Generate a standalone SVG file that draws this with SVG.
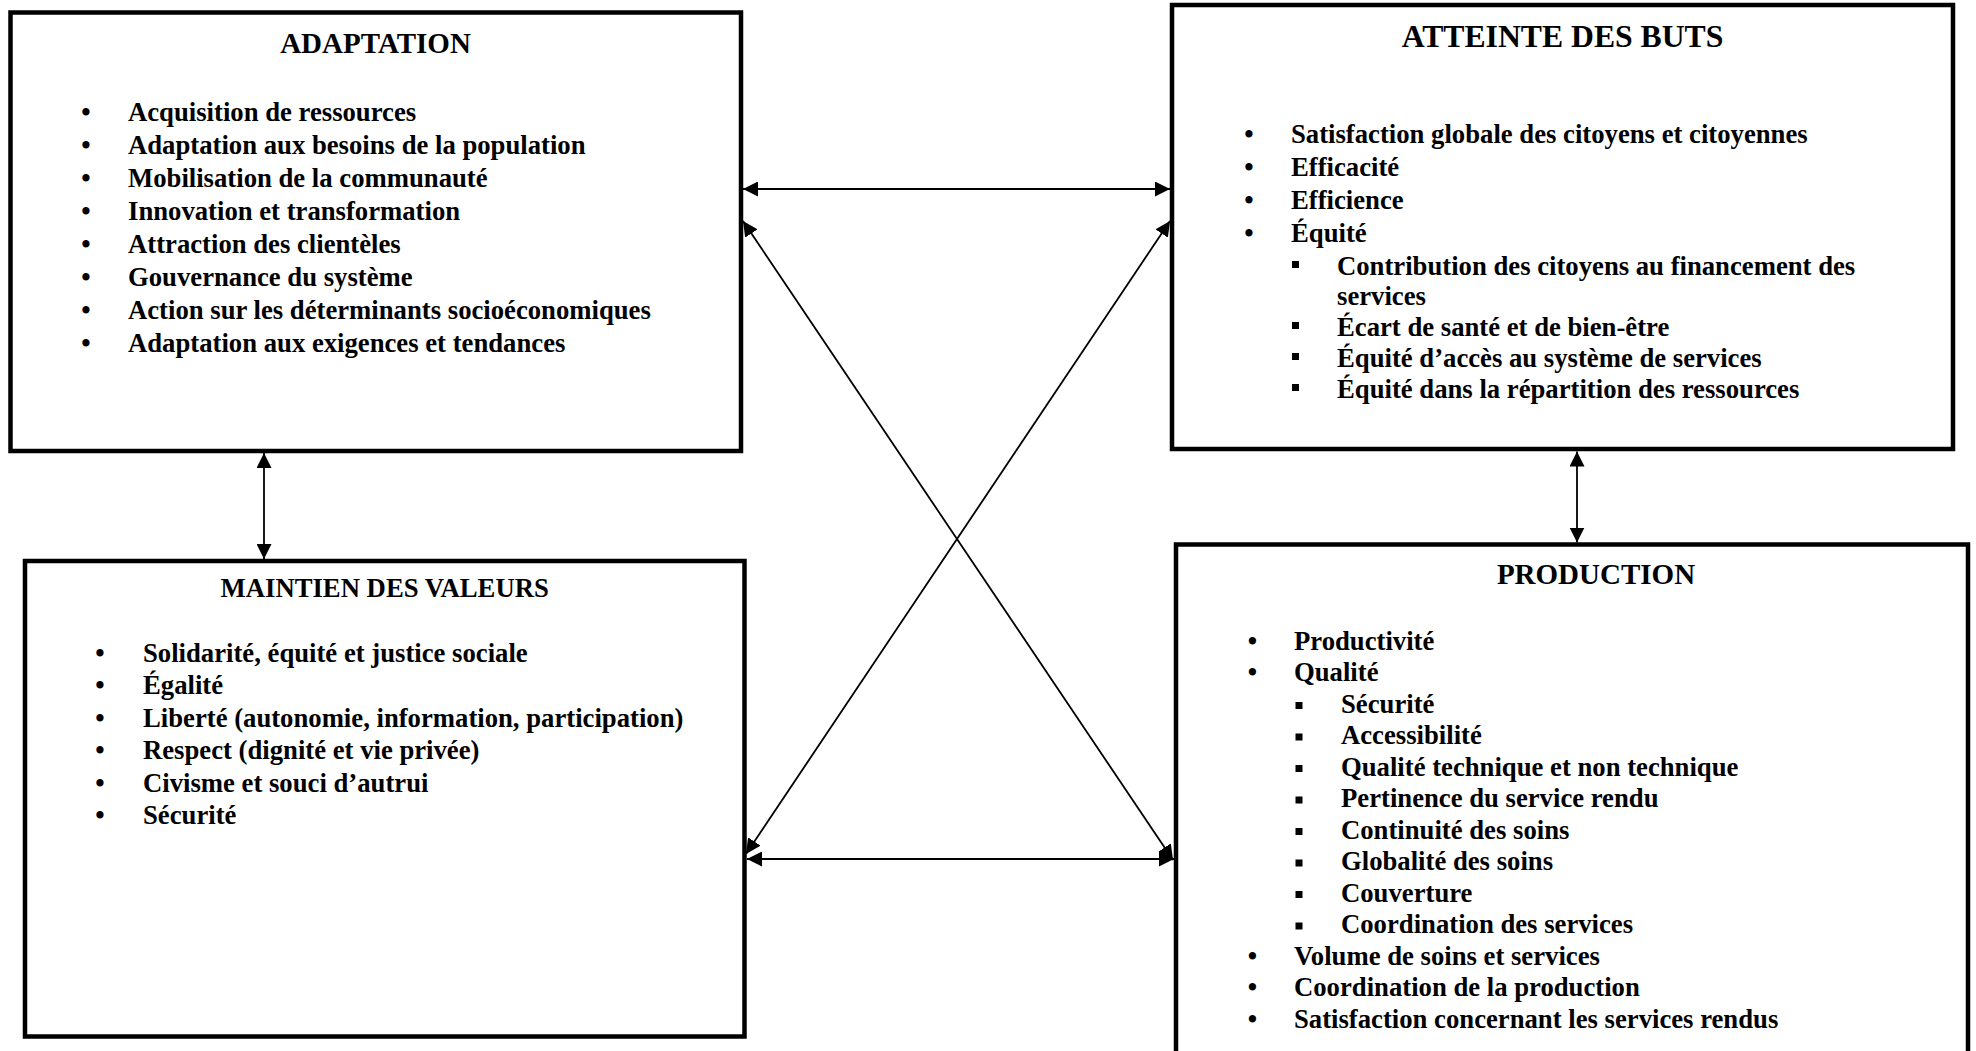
<svg xmlns="http://www.w3.org/2000/svg" width="1976" height="1051" viewBox="0 0 1976 1051">
<style>
text{font-family:"Liberation Serif","Times New Roman",serif;font-weight:bold;fill:#000}
.t{text-anchor:middle}
.b{font-size:26.7px}
.dot{font-size:26.7px;text-anchor:middle}
.box{fill:#fff;stroke:#000;stroke-width:4.5}
.c{stroke:#000;stroke-width:1.8;fill:none;marker-start:url(#ah);marker-end:url(#ah)}
</style>
<defs>
<marker id="ah" markerUnits="userSpaceOnUse" markerWidth="16" markerHeight="15" refX="15" refY="7.5" orient="auto-start-reverse" viewBox="0 0 16 15">
<path d="M0,0 L15,7.5 L0,15 z" fill="#000"/>
</marker>
</defs>
<rect width="1976" height="1051" fill="#fff"/>

<g id="node-adaptation">
<rect class="box" x="10.5" y="12.5" width="730.5" height="438.5"/>
<text class="t" x="375.5" y="52.7" font-size="29">ADAPTATION</text>
<g class="b">
<text class="dot" x="86" y="121">•</text><text x="128" y="121">Acquisition de ressources</text>
<text class="dot" x="86" y="154">•</text><text x="128" y="154">Adaptation aux besoins de la population</text>
<text class="dot" x="86" y="187">•</text><text x="128" y="187">Mobilisation de la communauté</text>
<text class="dot" x="86" y="220">•</text><text x="128" y="220">Innovation et transformation</text>
<text class="dot" x="86" y="253">•</text><text x="128" y="253">Attraction des clientèles</text>
<text class="dot" x="86" y="286">•</text><text x="128" y="286">Gouvernance du système</text>
<text class="dot" x="86" y="319">•</text><text x="128" y="319">Action sur les déterminants socioéconomiques</text>
<text class="dot" x="86" y="352">•</text><text x="128" y="352">Adaptation aux exigences et tendances</text>
</g>
</g>

<g id="node-atteinte">
<rect class="box" x="1172" y="5" width="781" height="444"/>
<text class="t" x="1562.5" y="47" font-size="31.7">ATTEINTE DES BUTS</text>
<g class="b">
<text class="dot" x="1249" y="143">•</text><text x="1291" y="143">Satisfaction globale des citoyens et citoyennes</text>
<text class="dot" x="1249" y="176">•</text><text x="1291" y="176">Efficacité</text>
<text class="dot" x="1249" y="209">•</text><text x="1291" y="209">Efficience</text>
<text class="dot" x="1249" y="242">•</text><text x="1291" y="242">Équité</text>
<rect x="1292" y="261" width="7" height="7"/><text x="1337" y="275">Contribution des citoyens au financement des</text>
<text x="1337" y="305">services</text>
<rect x="1292" y="322" width="7" height="7"/><text x="1337" y="336">Écart de santé et de bien-être</text>
<rect x="1292" y="353" width="7" height="7"/><text x="1337" y="367">Équité d’accès au système de services</text>
<rect x="1292" y="384" width="7" height="7"/><text x="1337" y="398">Équité dans la répartition des ressources</text>
</g>
</g>

<g id="node-maintien">
<rect class="box" x="25" y="561" width="719.5" height="475.5"/>
<text class="t" x="384.7" y="597" font-size="26.7">MAINTIEN DES VALEURS</text>
<g class="b">
<text class="dot" x="100" y="662">•</text><text x="143" y="662">Solidarité, équité et justice sociale</text>
<text class="dot" x="100" y="694.4">•</text><text x="143" y="694.4">Égalité</text>
<text class="dot" x="100" y="726.8">•</text><text x="143" y="726.8">Liberté (autonomie, information, participation)</text>
<text class="dot" x="100" y="759.2">•</text><text x="143" y="759.2">Respect (dignité et vie privée)</text>
<text class="dot" x="100" y="791.6">•</text><text x="143" y="791.6">Civisme et souci d’autrui</text>
<text class="dot" x="100" y="824">•</text><text x="143" y="824">Sécurité</text>
</g>
</g>

<g id="node-production">
<rect class="box" x="1176" y="544.5" width="792" height="520"/>
<text class="t" x="1596" y="584" font-size="29">PRODUCTION</text>
<g class="b">
<text class="dot" x="1252.5" y="649.5">•</text><text x="1294" y="649.5">Productivité</text>
<text class="dot" x="1252.5" y="681">•</text><text x="1294" y="681">Qualité</text>
<rect x="1295.5" y="702" width="7" height="7"/><text x="1341" y="712.5">Sécurité</text>
<rect x="1295.5" y="733.5" width="7" height="7"/><text x="1341" y="744">Accessibilité</text>
<rect x="1295.5" y="765" width="7" height="7"/><text x="1341" y="775.5">Qualité technique et non technique</text>
<rect x="1295.5" y="796.5" width="7" height="7"/><text x="1341" y="807">Pertinence du service rendu</text>
<rect x="1295.5" y="828" width="7" height="7"/><text x="1341" y="838.5">Continuité des soins</text>
<rect x="1295.5" y="859.5" width="7" height="7"/><text x="1341" y="870">Globalité des soins</text>
<rect x="1295.5" y="891" width="7" height="7"/><text x="1341" y="901.5">Couverture</text>
<rect x="1295.5" y="922.5" width="7" height="7"/><text x="1341" y="933">Coordination des services</text>
<text class="dot" x="1252.5" y="964.5">•</text><text x="1294" y="964.5">Volume de soins et services</text>
<text class="dot" x="1252.5" y="996">•</text><text x="1294" y="996">Coordination de la production</text>
<text class="dot" x="1252.5" y="1027.5">•</text><text x="1294" y="1027.5">Satisfaction concernant les services rendus</text>
</g>
</g>

<g id="connectors">
<line class="c" x1="743" y1="189" x2="1170" y2="189"/>
<line class="c" x1="747" y1="859" x2="1174" y2="859"/>
<line class="c" x1="264" y1="453" x2="264" y2="559"/>
<line class="c" x1="1577" y1="451.5" x2="1577" y2="542.5"/>
<line class="c" x1="743" y1="221" x2="1173" y2="860"/>
<line class="c" x1="746" y1="854" x2="1170" y2="221"/>
</g>
</svg>
